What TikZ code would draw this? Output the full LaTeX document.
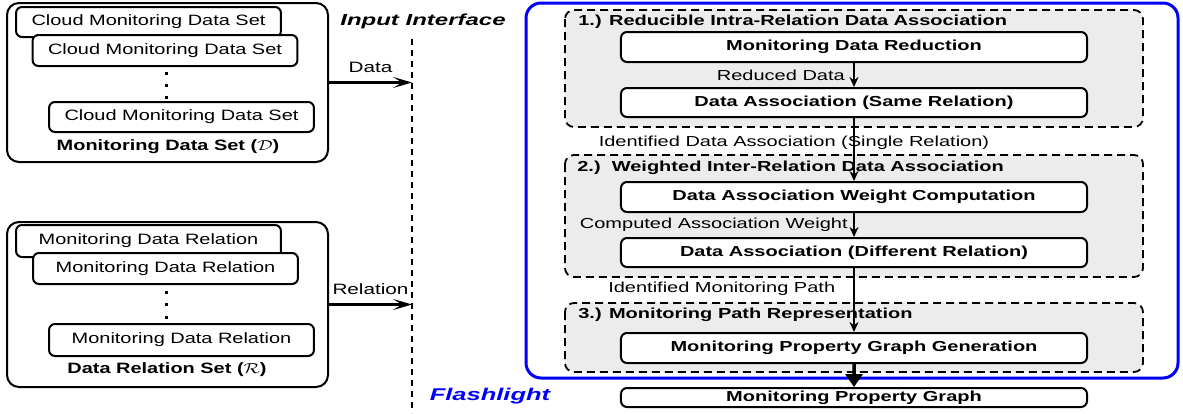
\documentclass[tikz,border=0pt]{standalone}
\usepackage{fontspec}
\setmainfont{Liberation Sans}
\usetikzlibrary{arrows.meta}

\definecolor{flashblue}{RGB}{0,0,250}
\definecolor{phasegray}{RGB}{236,236,236}

\tikzset{
  leftfont/.style={font=\fontsize{15}{18}\selectfont},
  rightfont/.style={font=\fontsize{14.5}{17}\selectfont},
  setframe/.style={draw, line width=2pt, rounded corners=12pt, inner sep=0pt},
  setbox/.style={draw, line width=2pt, rounded corners=6pt, fill=white, inner sep=0pt,
    minimum width=199.2pt, minimum height=30pt, xscale=1.33, leftfont},
  setlabel/.style={inner sep=0.75pt, xscale=1.33, leftfont, font=\bfseries\fontsize{15}{18}\selectfont},
  stepbox/.style={draw, line width=2pt, rounded corners=6pt, fill=white, inner sep=0pt,
    minimum width=337.7pt, minimum height=30pt, xscale=1.38, font=\bfseries\fontsize{14.5}{17}\selectfont},
  phase/.style={draw, line width=1.8pt, dash pattern=on 8pt off 5pt, fill=phasegray, rounded corners=9pt},
  phasetitle/.style={anchor=west, inner sep=0.75pt, xscale=1.38, font=\bfseries\fontsize{14.5}{17}\selectfont},
  flowlabel/.style={inner sep=0.75pt, xscale=1.38, rightfont},
  flow/.style={line width=1.8pt, -{Stealth[length=10pt,width=9pt]}},
  feed/.style={line width=2.2pt, -{Stealth[length=19pt,width=11pt,inset=9pt]}},
  iface/.style={line width=2pt, dash pattern=on 6pt off 5pt}
}

\begin{document}
\begin{tikzpicture}[x=1pt,y=1pt,yscale=-1,xscale=1]
\useasboundingbox (0,0) rectangle (1183,413);

%Monitoring data set (top left)
\node [setframe, minimum width=321pt, minimum height=159pt] (dataset) at (167.5,82.5) {};
\node [setbox] (cmds1) at (148.5,22) {Cloud Monitoring Data Set};
\node [setbox, minimum height=31pt] (cmds2) at (165,50.5) {Cloud Monitoring Data Set};
\node [setbox] (cmds3) at (181.5,117) {Cloud Monitoring Data Set};
\foreach \y in {73,85,97}
  \fill (164.5,\y-1.5) rectangle (167.5,\y+1.5);
\node [setlabel] (dslabel) at (168,147) {Monitoring Data Set ($\mathcal{D}$)};

%Data relation set (bottom left)
\node [setframe, minimum width=321pt, minimum height=165pt] (relset) at (167.5,304.5) {};
\node [setbox, minimum height=32pt] (mdr1) at (148.5,241) {Monitoring Data Relation};
\node [setbox, minimum height=31pt] (mdr2) at (165.5,268.5) {Monitoring Data Relation};
\node [setbox, minimum height=32pt] (mdr3) at (181.5,340) {Monitoring Data Relation};
\foreach \y in {292,304,317}
  \fill (164.5,\y-1.5) rectangle (167.5,\y+1.5);
\node [setlabel] (rslabel) at (167,370) {Data Relation Set ($\mathcal{R}$)};

%Input interface
\coordinate (iftop) at (412,39);
\coordinate (ifbot) at (412,413);
\draw [iface] (iftop) -- (ifbot);
\node [inner sep=0.75pt, xscale=1.5, font=\bfseries\itshape\fontsize{16}{19}\selectfont] (iflabel) at (423,21) {Input Interface};

\draw [feed] (dataset.east) -- node [flowlabel, above=8pt, leftfont] {Data} (dataset.east -| iftop);
\draw [feed] (relset.east) -- node [flowlabel, above=8pt, leftfont] {Relation} (relset.east -| iftop);

%Flashlight frame
\draw [flashblue, line width=3pt, rounded corners=15pt] (526,3) rectangle (1178,378);
\node [inner sep=0.75pt, xscale=1.5, text=flashblue, font=\bfseries\itshape\fontsize{17}{20}\selectfont] (flash) at (490,396) {Flashlight};

%Phases
\draw [phase] (565,10) rectangle (1143,127);
\draw [phase] (565,155) rectangle (1143,277);
\draw [phase] (565,303) rectangle (1143,372);
\node [phasetitle] (title1) at (577,22) {1.) Reducible Intra-Relation Data Association};
\node [phasetitle] (title2) at (576,168) {2.)\ \ Weighted Inter-Relation Data Association};
\node [phasetitle] (title3) at (577,315) {3.) Monitoring Path Representation};

%Steps
\node [stepbox] (reduce) at (854,47) {Monitoring Data Reduction};
\node [stepbox, minimum height=29pt] (assocsame) at (854,102.5) {Data Association (Same Relation)};
\node [stepbox] (weight) at (854,197) {Data Association Weight Computation};
\node [stepbox, minimum height=29pt] (assocdiff) at (854,252.5) {Data Association (Different Relation)};
\node [stepbox] (graphgen) at (854,348) {Monitoring Property Graph Generation};
\node [stepbox, minimum height=19pt] (graph) at (854,397.5) {Monitoring Property Graph};

%Connectors
\draw [flow] (reduce) -- node [flowlabel, anchor=east, xshift=-5pt] {Reduced Data} (assocsame);
\draw [flow] (assocsame) -- node [flowlabel, pos=0.385, xshift=-43.5pt] {Identified Data Association (Single Relation)} (weight);
\draw [flow] (weight) -- node [flowlabel, anchor=east, xshift=-3pt] {Computed Association Weight} (assocdiff);
\draw [flow] (assocdiff) -- node [flowlabel, pos=0.33, anchor=east, xshift=-12pt] {Identified Monitoring Path} (graphgen);
\draw [line width=3.5pt, -{Triangle[length=13pt,width=17pt]}] (graphgen) -- (graph);
\end{tikzpicture}
\end{document}
